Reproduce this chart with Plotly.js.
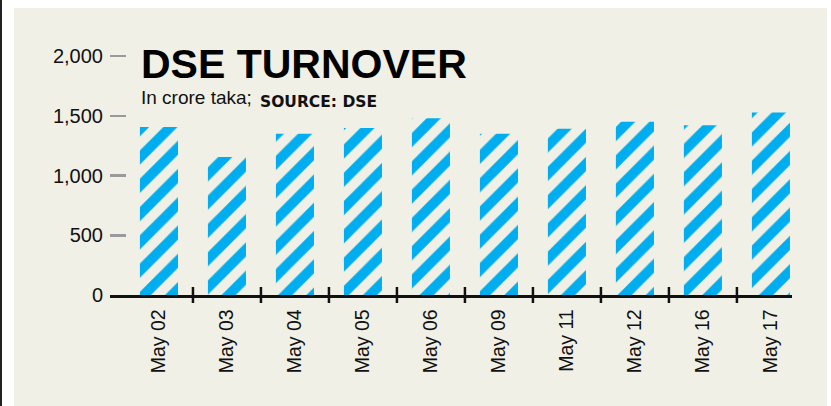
<!DOCTYPE html>
<html>
<head>
<meta charset="utf-8">
<script src="https://cdn.plot.ly/plotly-3.0.1.min.js"></script>
<style>
  html, body { margin: 0; padding: 0; background: #ffffff; width: 831px; height: 406px; overflow: hidden; }
  #frame { position: absolute; left: 0; top: 0; width: 2px; height: 406px; background: #222; }
  #chart { position: absolute; left: 14px; top: 8px; width: 813px; height: 398px; }
</style>
</head>
<body>
<div id="frame"></div>
<div id="chart"></div>
<script>
const categories = ["May 02", "May 03", "May 04", "May 05", "May 06", "May 09", "May 11", "May 12", "May 16", "May 17"];
const turnover = [1405, 1155, 1350, 1398, 1480, 1350, 1392, 1450, 1420, 1528];
const yTickVals = [0, 500, 1000, 1500, 2000];
const yTickText = ["0", "500", "1,000", "1,500", "2,000"];

const BLUE = "#00aeef";
const BEIGE = "#f0f0e6";
const FONT = "Liberation Sans, Arial, sans-serif";

const trace = {
  type: "bar",
  x: categories,
  y: turnover,
  marker: {
    color: BEIGE,
    line: { width: 0 },
    pattern: { shape: "/", fgcolor: BLUE, bgcolor: BEIGE, size: 20, solidity: 0.5 }
  },
  hoverinfo: "x+y"
};

const plotH = 249;
const sepTicks = categories.slice(0, -1).map((c, i) => ({
  type: "line", xref: "x", yref: "paper",
  x0: i + 0.5, x1: i + 0.5, y0: -8 / plotH, y1: 8 / plotH,
  line: { color: "#111", width: 2.5 }
}));

const layout = {
  width: 813, height: 398,
  margin: { l: 96, r: 35, t: 38, b: 111, pad: 0 },
  paper_bgcolor: BEIGE,
  plot_bgcolor: BEIGE,
  showlegend: false,
  bargap: 0.44,
  xaxis: {
    type: "category",
    range: [-0.72, 9.31],
    showgrid: false, zeroline: false,
    showline: true, linecolor: "#111", linewidth: 2.5,
    ticks: "",
    tickangle: -90,
    ticklabelstandoff: 4,
    tickfont: { family: FONT, size: 19.5, color: "#111" },
    fixedrange: true
  },
  yaxis: {
    range: [0, 2083.7],
    tickvals: yTickVals,
    ticktext: yTickText,
    showgrid: false, zeroline: false, showline: false,
    ticks: "inside", ticklen: 16, tickwidth: 2.5, tickcolor: "#9a9a9a",
    ticklabelstandoff: 6,
    tickfont: { family: FONT, size: 20, color: "#111" },
    fixedrange: true
  },
  shapes: sepTicks,
  annotations: [
    {
      text: "<b>DSE TURNOVER</b>", xref: "paper", yref: "paper",
      x: 0.044, y: 0.9297, xanchor: "left", yanchor: "middle",
      showarrow: false, borderpad: 0,
      font: { family: FONT, size: 41, color: "#000" }
    },
    {
      text: "In crore taka;", xref: "paper", yref: "paper",
      x: 0.044, y: 0.7932, xanchor: "left", yanchor: "middle",
      showarrow: false, borderpad: 0,
      font: { family: FONT, size: 19, color: "#111" }
    },
    {
      text: "<b>SOURCE: DSE</b>", xref: "paper", yref: "paper",
      x: 0.2185, y: 0.7767, xanchor: "left", yanchor: "middle",
      showarrow: false, borderpad: 0,
      font: { family: "DejaVu Sans, sans-serif", size: 15.5, color: "#111" }
    }
  ]
};

Plotly.newPlot("chart", [trace], layout, { displayModeBar: false, staticPlot: true });
</script>
</body>
</html>
